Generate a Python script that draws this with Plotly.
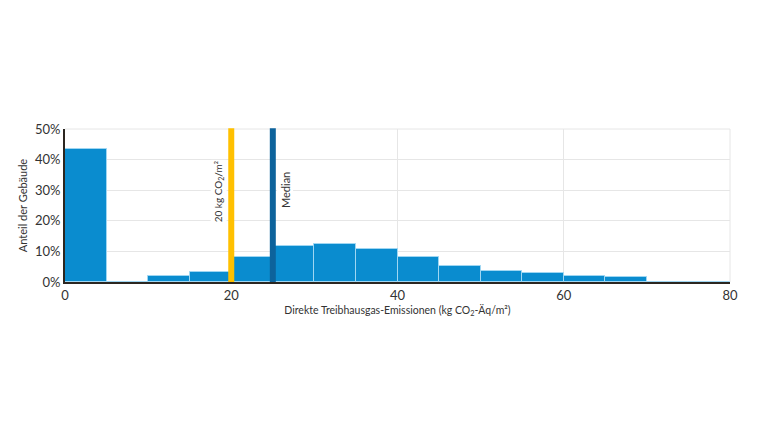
import plotly.graph_objects as go

bin_start = [0, 5, 10, 15, 20, 25, 30, 35, 40, 45, 50, 55, 60, 65, 70, 75]
bin_width = 5
share_pct = [43.4, 0, 1.8, 3.4, 8.2, 11.7, 12.4, 10.8, 8.2, 5.3, 3.5, 2.9, 2.1, 1.6, 0, 0]
threshold_value = 20
threshold_label = "20 kg CO<sub>2</sub>/m²"
median_value = 25
median_label = "Median"
x_ticks = [0, 20, 40, 60, 80]
y_ticks = [0, 10, 20, 30, 40, 50]
y_tick_text = [f"{v}%" for v in y_ticks]

FONT = "Lato, 'DejaVu Sans', sans-serif"
centers = [s + bin_width / 2 for s in bin_start]

fig = go.Figure()
fig.add_trace(go.Bar(
    x=centers, y=share_pct, width=[bin_width] * len(centers),
    marker=dict(color="#0a8ccf", line=dict(color="#9fd6f2", width=1)),
    hoverinfo="skip", showlegend=False,
))

fig.add_shape(type="line", xref="x", yref="paper", x0=threshold_value, x1=threshold_value,
              y0=0, y1=1.005, line=dict(color="#ffc000", width=6), layer="above")
fig.add_shape(type="line", xref="x", yref="paper", x0=median_value, x1=median_value,
              y0=0, y1=1.005, line=dict(color="#0d639c", width=6), layer="above")

fig.add_annotation(x=threshold_value, xref="x", xshift=-13, y=0.80, yref="paper",
                   yanchor="top", text=threshold_label, textangle=-90, showarrow=False,
                   font=dict(family=FONT, size=10, color="#333"), bgcolor="white")
fig.add_annotation(x=median_value, xref="x", xshift=12, y=0.60, yref="paper",
                   yanchor="middle", text=median_label, textangle=-90, showarrow=False,
                   font=dict(family=FONT, size=11, color="#333"), bgcolor="white")

fig.update_layout(
    width=760, height=440,
    margin=dict(l=57, r=38, t=121, b=166, autoexpand=False),
    plot_bgcolor="white", paper_bgcolor="white",
    font=dict(family=FONT, color="#333"),
    bargap=0,
    xaxis=dict(range=[0, 80], tickvals=x_ticks, showgrid=True, gridcolor="#e6e6e6",
               showline=True, linecolor="#2b2620", linewidth=2, ticks="",
               tickfont=dict(size=13, color="#333"), zeroline=False,
               title=dict(text="Direkte Treibhausgas-Emissionen (kg CO<sub>2</sub>-Äq/m²)",
                          font=dict(size=10.5, color="#333"), standoff=4),
               automargin=False),
    yaxis=dict(range=[0, 50], tickmode="array", tickvals=y_ticks, ticktext=y_tick_text,
               showgrid=True, gridcolor="#e6e6e6", showline=True, linecolor="#2b2620",
               linewidth=2, ticks="", tickfont=dict(size=13, color="#333"), zeroline=False,
               title=dict(text="Anteil der Gebäude", font=dict(size=11, color="#333"), standoff=5),
               automargin=False),
)
fig.add_shape(type="line", xref="paper", yref="paper", x0=1, x1=1, y0=0, y1=1,
              line=dict(color="#e6e6e6", width=1), layer="below")
fig.add_shape(type="line", xref="paper", yref="paper", x0=0, x1=1, y0=1, y1=1,
              line=dict(color="#e6e6e6", width=1), layer="below")

fig.write_html("out.html")
